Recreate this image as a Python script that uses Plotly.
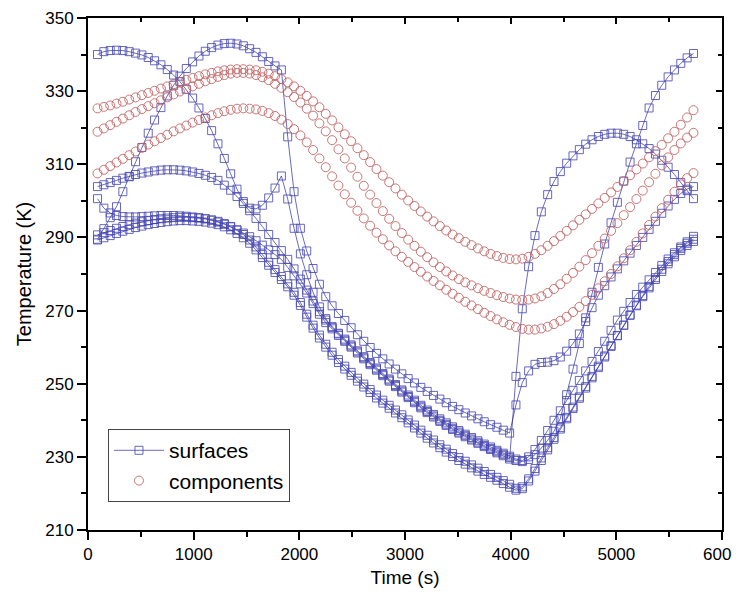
import plotly.graph_objects as go

# time grid (s)
time_s = list(range(90, 5731, 60))

# ---- surface temperatures (K) ----
surface_1 = [
    340.0, 340.8, 341.1, 341.2, 341.1, 340.8, 340.4, 339.9, 339.2, 338.3,
    337.2, 335.9, 334.4, 332.6, 330.5, 328.1, 325.4, 322.5, 319.2, 315.6,
    311.6, 307.4, 303.2, 299.8, 298.0, 297.8, 298.8, 300.8, 303.5, 306.8,
    300.5, 292.5, 285.5, 279.8, 275.0, 271.0, 267.8, 265.4, 263.6, 261.9,
    260.3, 258.7, 257.1, 255.5, 254.0, 252.5, 251.0, 249.5, 248.0, 246.5,
    245.1, 243.7, 242.4, 241.2, 240.0, 238.9, 237.8, 236.8, 235.8, 234.9,
    234.0, 233.1, 232.3, 231.4, 230.6, 229.8, 229.0, 228.7, 229.3, 230.6,
    232.4, 234.5, 237.0, 240.5, 247.0, 254.0, 261.0, 268.0, 275.0, 281.8,
    288.2, 294.0, 299.6, 305.4, 310.6, 315.6, 320.6, 325.4, 328.8, 331.6,
    333.9, 335.8, 337.6, 339.1, 340.3]
surface_2 = [
    289.5, 292.4, 295.4, 298.4, 302.5, 306.6, 310.7, 314.6, 318.5, 322.1,
    325.5, 328.7, 331.6, 334.1, 336.2, 338.0, 339.6, 340.9, 341.9, 342.6,
    343.0, 343.1, 342.9, 342.4, 341.6, 340.6, 339.4, 338.1, 336.9, 335.8,
    317.5, 302.5, 292.5, 286.3, 281.5, 277.2, 273.8, 271.3, 269.2, 267.3,
    265.3, 263.4, 261.6, 259.9, 258.3, 256.8, 255.4, 254.0, 252.7, 251.4,
    250.2, 249.0, 247.9, 246.8, 245.8, 244.8, 243.8, 242.9, 242.0, 241.2,
    240.4, 239.6, 238.8, 238.1, 237.3, 236.5, 244.2, 250.3, 253.5, 255.3,
    255.8, 255.9, 256.3, 257.3, 258.9, 261.0, 263.6, 267.0, 270.8, 274.2,
    276.8, 279.2, 281.4, 283.6, 285.7, 287.8, 290.0, 292.2, 294.4, 296.6,
    298.6, 300.4, 302.0, 303.2, 303.9]
surface_3 = [
    300.6, 298.0, 296.7, 296.0, 295.7, 295.6, 295.6, 295.7, 295.8, 295.9,
    296.0, 296.0, 296.0, 295.9, 295.8, 295.6, 295.4, 295.1, 294.7, 294.2,
    293.6, 292.9, 292.1, 291.2, 290.2, 289.1, 287.9, 286.6, 285.3, 284.0,
    281.8, 279.5, 277.3, 274.8, 271.9, 269.0, 266.7, 265.0, 263.2, 261.6,
    260.0, 258.4, 256.8, 255.2, 253.7, 252.2, 250.7, 249.2, 247.7, 246.2,
    244.8, 243.4, 242.1, 240.9, 239.7, 238.6, 237.5, 236.5, 235.5, 234.6,
    233.7, 232.8, 232.0, 231.1, 230.3, 229.4, 252.0, 270.5, 282.0, 290.5,
    297.0, 301.7, 305.3, 308.0, 310.3, 312.3, 314.0, 315.5, 316.7, 317.6,
    318.2, 318.5, 318.5, 318.2, 317.6, 316.7, 315.6, 314.3, 312.8, 311.1,
    309.2, 307.2, 305.0, 302.8, 300.6]
surface_4 = [
    303.9, 304.4, 305.0, 305.6, 306.2, 306.7, 307.2, 307.6, 307.9, 308.2,
    308.4, 308.5, 308.5, 308.4, 308.2, 307.9, 307.5, 307.0, 306.4, 305.6,
    304.3, 302.9, 301.2, 299.3, 297.3, 295.2, 293.0, 290.8, 288.6, 286.4,
    284.0, 281.4, 278.6, 275.6, 272.6, 269.7, 267.4, 265.6, 263.8, 262.2,
    260.6, 259.0, 257.4, 255.8, 254.3, 252.8, 251.3, 249.8, 248.3, 246.9,
    245.5, 244.1, 242.8, 241.6, 240.4, 239.3, 238.2, 237.2, 236.2, 235.3,
    234.4, 233.5, 232.7, 231.8, 231.0, 230.2, 229.4, 229.0, 230.0, 232.0,
    234.5, 237.2, 240.0, 242.6, 245.4, 248.2, 250.9, 253.5, 256.1, 258.8,
    261.6, 264.6, 267.4, 269.8, 272.2, 274.4, 276.4, 278.4, 280.4, 282.3,
    284.1, 285.8, 287.4, 288.8, 290.3]
surface_5 = [
    290.7, 291.3, 291.9, 292.5, 293.0, 293.5, 293.9, 294.3, 294.6, 294.9,
    295.1, 295.3, 295.4, 295.5, 295.5, 295.4, 295.3, 295.1, 294.8, 294.4,
    293.8, 293.0, 292.0, 290.8, 289.3, 287.4, 285.3, 283.2, 281.2, 279.3,
    277.3, 275.0, 272.2, 269.0, 266.0, 263.3, 260.8, 258.6, 256.6, 254.8,
    253.1, 251.5, 249.9, 248.4, 246.9, 245.5, 244.1, 242.8, 241.5, 240.1,
    238.7, 237.3, 235.9, 234.6, 233.3, 232.1, 230.9, 229.8, 228.8, 227.8,
    226.9, 226.0, 225.2, 224.4, 223.5, 222.5, 221.4, 221.8, 224.0, 226.8,
    229.7, 232.5, 235.3, 238.0, 240.8, 243.6, 246.4, 249.2, 252.0, 254.8,
    257.6, 260.4, 263.2, 266.0, 268.7, 271.3, 273.8, 276.2, 278.5, 280.7,
    282.8, 284.7, 286.4, 287.8, 288.9]
surface_6 = [
    289.3, 289.9, 290.5, 291.1, 291.7, 292.2, 292.7, 293.1, 293.5, 293.8,
    294.1, 294.3, 294.5, 294.6, 294.6, 294.5, 294.4, 294.2, 293.9, 293.5,
    292.9, 292.1, 291.1, 289.9, 288.4, 286.6, 284.5, 282.4, 280.4, 278.5,
    276.5, 274.2, 271.4, 268.2, 265.2, 262.5, 260.0, 257.8, 255.8, 254.0,
    252.3, 250.7, 249.1, 247.6, 246.1, 244.7, 243.3, 242.0, 240.7, 239.3,
    237.9, 236.5, 235.1, 233.8, 232.5, 231.3, 230.1, 229.0, 228.0, 227.0,
    226.1, 225.2, 224.4, 223.6, 222.7, 221.7, 220.9, 221.3, 223.4, 226.1,
    229.0, 231.9, 234.8, 237.6, 240.4, 243.2, 246.0, 248.8, 251.6, 254.4,
    257.3, 260.2, 263.1, 266.0, 268.8, 271.5, 274.1, 276.6, 279.0, 281.3,
    283.4, 285.3, 287.0, 288.4, 289.5]

# ---- component temperatures (K) ----
component_1 = [
    325.3, 325.7, 326.1, 326.6, 327.1, 327.7, 328.3, 328.9, 329.5, 330.1,
    330.7, 331.3, 331.9, 332.5, 333.1, 333.6, 334.1, 334.6, 335.0, 335.4,
    335.7, 335.9, 336.0, 336.0, 335.9, 335.7, 335.3, 334.8, 334.1, 333.3,
    332.4, 331.3, 330.1, 328.7, 327.2, 325.6, 323.8, 322.0, 320.1, 318.2,
    316.3, 314.4, 312.5, 310.6, 308.7, 306.9, 305.1, 303.4, 301.7, 300.1,
    298.6, 297.1, 295.7, 294.4, 293.1, 291.9, 290.8, 289.8, 288.8, 287.9,
    287.0, 286.2, 285.5, 284.9, 284.4, 284.1, 284.0, 284.2, 284.7, 285.5,
    286.5, 287.7, 289.0, 290.4, 291.8, 293.3, 294.8, 296.3, 297.8, 299.3,
    300.8, 302.3, 303.8, 305.4, 307.0, 308.6, 310.2, 311.9, 313.6, 315.3,
    317.1, 318.9, 320.8, 322.8, 324.8]
component_2 = [
    318.9, 319.8, 320.7, 321.6, 322.5, 323.4, 324.3, 325.1, 325.9, 326.7,
    327.5, 328.3, 329.1, 329.9, 330.6, 331.3, 332.0, 332.7, 333.3, 333.9,
    334.4, 334.8, 335.0, 335.0, 334.8, 334.4, 333.8, 333.0, 332.0, 330.9,
    329.7, 328.4, 326.9, 325.2, 323.3, 321.2, 319.0, 316.6, 314.1, 311.6,
    309.1, 306.6, 304.1, 301.7, 299.4, 297.2, 295.1, 293.1, 291.2, 289.4,
    287.7, 286.1, 284.6, 283.2, 281.9, 280.7, 279.6, 278.6, 277.7, 276.9,
    276.1, 275.4, 274.8, 274.2, 273.7, 273.3, 273.0, 272.9, 273.0, 273.3,
    273.9, 274.8, 275.9, 277.2, 278.7, 280.3, 282.0, 283.8, 285.7, 287.7,
    289.7, 291.8, 293.9, 296.1, 298.3, 300.5, 302.8, 305.1, 307.4, 309.7,
    311.9, 313.9, 315.7, 317.3, 318.6]
component_3 = [
    307.5, 308.5, 309.5, 310.5, 311.5, 312.5, 313.5, 314.5, 315.4, 316.3,
    317.2, 318.1, 319.0, 319.8, 320.6, 321.4, 322.1, 322.8, 323.4, 324.0,
    324.5, 324.9, 325.2, 325.3, 325.2, 325.0, 324.6, 324.0, 323.2, 322.2,
    321.0, 319.6, 317.9, 316.0, 313.9, 311.6, 309.2, 306.7, 304.2, 301.8,
    299.5, 297.3, 295.2, 293.2, 291.3, 289.5, 287.8, 286.2, 284.7, 283.3,
    281.9, 280.6, 279.3, 278.1, 276.9, 275.7, 274.6, 273.5, 272.4, 271.4,
    270.4, 269.4, 268.5, 267.6, 266.8, 266.1, 265.5, 265.0, 264.8, 264.8,
    265.1, 265.6, 266.3, 267.2, 268.3, 269.6, 271.0, 272.6, 274.3, 276.1,
    278.0, 280.0, 282.1, 284.3, 286.5, 288.8, 291.1, 293.4, 295.7, 298.0,
    300.3, 302.5, 304.5, 306.2, 307.6]

surfaces = [surface_1, surface_2, surface_3, surface_4, surface_5, surface_6]
components = [component_1, component_2, component_3]

SQ_COLOR = "rgba(75,75,180,0.85)"
LINE_COLOR = "rgba(35,35,160,0.85)"
CIRC_COLOR = "rgba(190,95,95,0.85)"
FONT = "Liberation Sans, Arial, sans-serif"

fig = go.Figure()
for i, s in enumerate(surfaces):
    fig.add_trace(go.Scatter(
        x=time_s, y=s, mode="lines+markers", name="surfaces",
        legendgroup="surfaces", showlegend=(i == 0),
        line=dict(color=LINE_COLOR, width=0.8),
        marker=dict(symbol="square-open", size=8, color=SQ_COLOR,
                    line=dict(width=1, color=SQ_COLOR))))
for i, c in enumerate(components):
    fig.add_trace(go.Scatter(
        x=time_s, y=c, mode="markers", name="components",
        legendgroup="components", showlegend=(i == 0),
        marker=dict(symbol="circle-open", size=9, color=CIRC_COLOR,
                    line=dict(width=1, color=CIRC_COLOR))))

# dummy trace to activate mirrored top/right axes
fig.add_trace(go.Scatter(x=[None], y=[None], xaxis="x2", yaxis="y2",
                         showlegend=False, hoverinfo="skip"))

# the page body has an 8px default margin; size the figure so the page
# does not scroll (which would add a scrollbar)
fig.update_layout(
    width=732, height=580,
    margin=dict(l=80, r=18, t=10, b=58),
    paper_bgcolor="white", plot_bgcolor="white",
    font=dict(family=FONT, size=17, color="black"),
    showlegend=True,
    legend=dict(x=0.0315, y=0.197, xanchor="left", yanchor="top",
                bgcolor="white", bordercolor="#444", borderwidth=1,
                font=dict(size=21, family=FONT), itemwidth=50,
                tracegroupgap=0),
    xaxis=dict(range=[0, 6000], tick0=0, dtick=1000, ticks="outside",
               ticklen=8, tickwidth=1.5, tickcolor="black",
               showline=True, linecolor="black", linewidth=1.8, mirror=True,
               showgrid=False, zeroline=False, automargin=False,
               ticklabeloverflow="allow",
               minor=dict(ticks="outside", ticklen=5, dtick=500,
                          tickcolor="black", tickwidth=1.5, showgrid=False),
               title=dict(text="Time (s)", font=dict(size=19, family=FONT),
                          standoff=8),
               tickfont=dict(size=17, family=FONT)),
    yaxis=dict(range=[210, 350], tick0=210, dtick=20, ticks="outside",
               ticklen=9, tickwidth=1.5, tickcolor="black",
               showline=True, linecolor="black", linewidth=1.8, mirror=True,
               showgrid=False, zeroline=False, automargin=False,
               ticklabeloverflow="allow",
               minor=dict(ticks="outside", ticklen=5, dtick=10,
                          tickcolor="black", tickwidth=1.5, showgrid=False),
               title=dict(text="Temperature (K)", font=dict(size=20, family=FONT),
                          standoff=8),
               tickfont=dict(size=17, family=FONT)),
    xaxis2=dict(overlaying="x", side="top", range=[0, 6000], tick0=0,
                dtick=1000, ticks="inside", ticklen=6, tickwidth=1.5,
                tickcolor="black", showticklabels=False, showgrid=False,
                zeroline=False, showline=False, automargin=False,
                minor=dict(ticks="inside", ticklen=4, dtick=500,
                           tickcolor="black", tickwidth=1.5, showgrid=False)),
    yaxis2=dict(overlaying="y", side="right", range=[210, 350], tick0=210,
                dtick=20, ticks="inside", ticklen=6, tickwidth=1.5,
                tickcolor="black", showticklabels=False, showgrid=False,
                zeroline=False, showline=False, automargin=False,
                minor=dict(ticks="inside", ticklen=4, dtick=10,
                           tickcolor="black", tickwidth=1.5, showgrid=False)),
)

fig.write_html("out.html")
